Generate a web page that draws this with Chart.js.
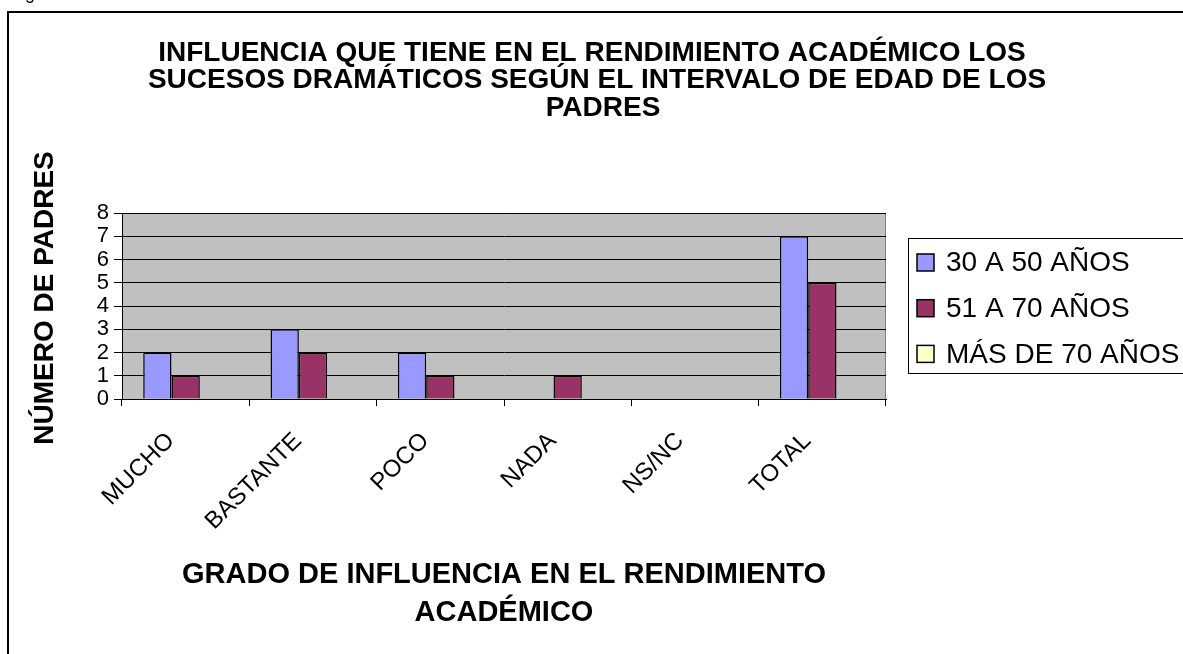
<!DOCTYPE html>
<html>
<head>
<meta charset="utf-8">
<title>Influencia de los sucesos dramáticos</title>
<script src="https://cdn.jsdelivr.net/npm/chart.js"></script>
<style>
    html, body {
        margin: 0;
        padding: 0;
        background: #fff;
        overflow: hidden;
    }
    #wrap {
        position: relative;
        width: 1183px;
        height: 654px;
    }
</style>
</head>
<body>
<div id="wrap"><canvas id="chart" width="1183" height="654"></canvas></div>
<script>
// Datos por grado de influencia
const categories = ['MUCHO', 'BASTANTE', 'POCO', 'NADA', 'NS/NC', 'TOTAL'];
const seriesNames = ['30 A 50 AÑOS', '51 A 70 AÑOS', 'MÁS DE 70 AÑOS'];
const edad30a50 = [2, 3, 2, 0, 0, 7];
const edad51a70 = [1, 2, 1, 1, 0, 5];
const edadMas70 = [0, 0, 0, 0, 0, 0];
const seriesColors = ['#9999FF', '#993366', '#FFFFCC'];
const yTicks = [0, 1, 2, 3, 4, 5, 6, 7, 8];

const titleLines = [
    'INFLUENCIA QUE TIENE EN EL RENDIMIENTO ACADÉMICO LOS',
    'SUCESOS DRAMÁTICOS SEGÚN EL INTERVALO DE EDAD DE LOS',
    'PADRES'
];
const titleCenters = [592, 597, 603];
const xTitleLines = ['GRADO DE INFLUENCIA EN EL RENDIMIENTO', 'ACADÉMICO'];
const yTitle = 'NÚMERO DE PADRES';

const FONT = '"Liberation Sans", Arial, sans-serif';

// Marco exterior y fondo gris del área de trazado
const plotBackground = {
    id: 'plotBackground',
    beforeDraw(chart) {
        const { ctx, chartArea: a } = chart;
        ctx.save();
        ctx.strokeStyle = '#000';
        ctx.lineWidth = 2;
        ctx.strokeRect(8, 12, 1400, 900);
        ctx.fillStyle = '#C0C0C0';
        ctx.fillRect(a.left, a.top, a.right - a.left, a.bottom - a.top);
        ctx.strokeStyle = '#808080';
        ctx.lineWidth = 1;
        ctx.strokeRect(a.left + 0.5, a.top + 0.5, a.right - a.left - 1, a.bottom - a.top);
        ctx.restore();
    }
};

// Títulos y leyenda con recuadro
const textsAndLegend = {
    id: 'textsAndLegend',
    afterDraw(chart) {
        const { ctx, chartArea: a } = chart;
        ctx.save();
        ctx.fillStyle = '#000';

        // fragmento de texto sobre el marco
        ctx.font = '18px ' + FONT;
        ctx.textAlign = 'left';
        ctx.textBaseline = 'alphabetic';
        ctx.fillText('g', 25, -1);

        ctx.font = 'bold 28px ' + FONT;
        ctx.textAlign = 'center';
        ctx.textBaseline = 'middle';
        titleLines.forEach((line, i) => ctx.fillText(line, titleCenters[i], 53 + i * 27.5));

        ctx.save();
        ctx.translate(45, 298);
        ctx.rotate(-Math.PI / 2);
        ctx.fillText(yTitle, 0, 0);
        ctx.restore();

        ctx.font = 'bold 29px ' + FONT;
        const cx = (a.left + a.right) / 2;
        xTitleLines.forEach((line, i) => ctx.fillText(line, cx, 575 + i * 38));

        // leyenda
        const lx = 908, ly = 238, lw = 290, lh = 135;
        ctx.fillStyle = '#fff';
        ctx.fillRect(lx, ly, lw, lh);
        ctx.strokeStyle = '#000';
        ctx.lineWidth = 1;
        ctx.strokeRect(lx + 0.5, ly + 0.5, lw, lh);
        ctx.font = '28px ' + FONT;
        ctx.textAlign = 'left';
        chart.data.datasets.forEach((ds, i) => {
            const y = 262.5 + i * 45.7;
            ctx.fillStyle = ds.backgroundColor;
            ctx.fillRect(917, y - 8.5, 17, 17);
            ctx.strokeStyle = '#000';
            ctx.lineWidth = 1.5;
            ctx.strokeRect(917, y - 8.5, 17, 17);
            ctx.fillStyle = '#000';
            ctx.fillText(ds.label, 946, y + 1);
        });
        ctx.restore();
    }
};

const datasets = [edad30a50, edad51a70, edadMas70].map((values, i) => ({
    label: seriesNames[i],
    data: values,
    backgroundColor: seriesColors[i],
    borderColor: '#000',
    borderWidth: 1.5,
    borderSkipped: 'start',
    categoryPercentage: 3 / 4.5,
    barPercentage: 1
}));

new Chart(document.getElementById('chart'), {
    type: 'bar',
    data: { labels: categories, datasets },
    options: {
        responsive: false,
        animation: false,
        devicePixelRatio: 1,
        layout: { padding: { left: 0, top: 213, right: 297, bottom: 0 } },
        plugins: {
            legend: { display: false },
            title: { display: false },
            tooltip: { enabled: false }
        },
        scales: {
            x: {
                afterFit: scale => { scale.height = 255; },
                grid: {
                    offset: true,
                    drawOnChartArea: false,
                    drawTicks: true,
                    tickLength: 7,
                    color: '#000'
                },
                border: { display: true, color: '#000', width: 1 },
                ticks: {
                    autoSkip: false,
                    minRotation: 45,
                    maxRotation: 45,
                    padding: 21,
                    labelOffset: -15,
                    color: '#000',
                    font: { family: FONT, size: 24 }
                }
            },
            y: {
                min: yTicks[0],
                max: yTicks[yTicks.length - 1],
                afterFit: scale => { scale.width = 122; },
                afterBuildTicks: scale => { scale.ticks = yTicks.map(v => ({ value: v })); },
                grid: {
                    color: '#000',
                    lineWidth: 1,
                    drawTicks: true,
                    tickLength: 8
                },
                border: { display: true, color: '#000', width: 1 },
                ticks: {
                    autoSkip: false,
                    padding: 5,
                    color: '#000',
                    font: { family: FONT, size: 22 }
                }
            }
        }
    },
    plugins: [plotBackground, textsAndLegend]
});
</script>
</body>
</html>
